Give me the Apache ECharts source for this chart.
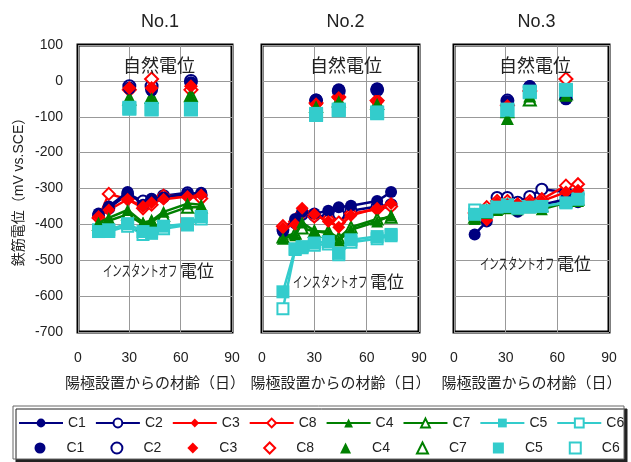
<!DOCTYPE html>
<html>
<head>
<meta charset="utf-8">
<script src="https://cdn.jsdelivr.net/npm/echarts@6/dist/echarts.min.js"></script>
<style>
  html, body { margin: 0; padding: 0; background: #fff; }
  #chart { width: 631px; height: 462px; }
</style>
</head>
<body>
<div id="chart"></div>
<script>
// series order as in the legend
const seriesNames = ['C1', 'C2', 'C3', 'C8', 'C4', 'C7', 'C5', 'C6'];
const panelTitles = ['No.1', 'No.2', 'No.3'];
const xTicks = [0, 30, 60, 90];
const yTicks = [100, 0, -100, -200, -300, -400, -500, -600, -700];

// No.1 : instant-off potentials (lines) and natural potentials (points)
const days1 = [12, 18, 29, 38, 43, 50, 64, 72];
const off1 = [
  [-370, -350, -310, -345, -330, -325, -315, -312],
  [-375, -355, -315, -335, -330, -320, -312, -318],
  [-378, -360, -330, -350, -340, -330, -322, -318],
  [-382, -315, -330, -355, -345, -320, -322, -328],
  [-395, -382, -360, -395, -390, -365, -342, -345],
  [-400, -390, -372, -400, -392, -375, -352, -352],
  [-420, -415, -398, -420, -425, -405, -398, -378],
  [-415, -420, -405, -428, -420, -412, -402, -385]
];
const natDays1 = [30, 43, 66];
const nat1 = [
  [-20, -25, -5], [-15, -15, 0], [-20, -20, -15], [-25, 5, -25],
  [-55, -50, -45], [-50, -45, -40], [-75, -78, -78], [-78, -80, -80]
];

// No.2
const days2 = [12, 19, 23, 30, 38, 44, 51, 66, 74];
const off2 = [
  [-420, -385, -365, -370, -362, -352, -348, -335, -310],
  [-415, -395, -372, -375, -378, -372, -362, -350, -345],
  [-410, -400, -355, -372, -392, -408, -375, -355, -342],
  [-405, -392, -368, -378, -385, -395, -370, -358, -350],
  [-440, -430, -395, -418, -425, -445, -415, -392, -375],
  [-435, -425, -410, -420, -420, -438, -408, -385, -380],
  [-588, -468, -462, -452, -448, -480, -443, -434, -428],
  [-635, -470, -465, -458, -455, -485, -450, -440, -432]
];
const natDays2 = [31, 44, 66];
const nat2 = [
  [-53, -25, -22], [-55, -28, -25], [-65, -48, -58], [-62, -45, -55],
  [-72, -58, -65], [-70, -55, -62], [-92, -80, -88], [-95, -82, -90]
];

// No.3
const days3 = [12, 19, 25, 31, 37, 44, 51, 65, 72];
const off3 = [
  [-428, -392, -355, -352, -365, -350, -345, -330, -338],
  [-382, -362, -325, -325, -338, -322, -302, -310, -315],
  [-372, -388, -340, -345, -342, -340, -335, -310, -305],
  [-368, -352, -335, -335, -345, -335, -330, -292, -288],
  [-385, -368, -360, -355, -358, -352, -358, -340, -335],
  [-380, -362, -355, -345, -350, -345, -348, -335, -330],
  [-372, -365, -352, -350, -355, -352, -350, -340, -330],
  [-360, -362, -350, -345, -350, -350, -348, -338, -325]
];
const natDays3 = [31, 44, 65];
const nat3 = [
  [-58, -16, -50], [-55, -18, -40], [-70, -30, -30], [-68, -28, 5],
  [-105, -42, -40], [-85, -52, -35], [-80, -30, -25], [-82, -32, -28]
];

const colors = ['#000080', '#000080', '#ff0000', '#ff0000', '#008000', '#008000', '#33cccc', '#33cccc'];
const symbols = ['circle', 'emptyCircle', 'diamond', 'emptyDiamond', 'triangle', 'emptyTriangle', 'rect', 'emptyRect'];
const sizes = [12, 11, 13, 12, 12, 11, 13, 11];

const FONT = '"Liberation Sans", "Noto Sans CJK JP", sans-serif';
const panels = [
  { days: days1, off: off1, natDays: natDays1, nat: nat1 },
  { days: days2, off: off2, natDays: natDays2, nat: nat2 },
  { days: days3, off: off3, natDays: natDays3, nat: nat3 }
];
const gridLeft = [78, 262, 454];
const gridW = [154, 157, 155];

let chart = echarts.init(document.getElementById('chart'), null, { renderer: 'canvas' });

let grids = [], xAxes = [], yAxes = [], series = [], titles = [], graphics = [];

panels.forEach((p, pi) => {
  grids.push({
    left: gridLeft[pi], top: 45, width: gridW[pi], height: 287,
    show: true, borderColor: '#000', borderWidth: 3, backgroundColor: '#fff'
  });
  xAxes.push({
    gridIndex: pi, type: 'value', min: xTicks[0], max: xTicks[xTicks.length - 1], interval: 30,
    name: '陽極設置からの材齢（日）', nameLocation: 'middle', nameGap: 44,
    nameTextStyle: { fontSize: 15, color: '#222', fontFamily: FONT },
    axisLine: { show: false }, axisTick: { show: false },
    axisLabel: { fontSize: 14, color: '#222', margin: 19, fontFamily: FONT },
    splitLine: { show: true, lineStyle: { color: '#999', width: 1 } }
  });
  yAxes.push({
    gridIndex: pi, type: 'value', min: -700, max: 100, interval: 100,
    name: pi === 0 ? '鉄筋電位（mV vs.SCE）' : '', nameLocation: 'middle', nameGap: 52,
    nameTextStyle: { fontSize: 14, color: '#222', fontFamily: FONT },
    axisLine: { show: false }, axisTick: { show: false },
    axisLabel: { show: pi === 0, fontSize: 14, color: '#222', margin: 15, fontFamily: FONT },
    splitLine: { show: true, lineStyle: { color: '#999', width: 1 } }
  });
  const cx = gridLeft[pi] + gridW[pi] / 2;
  titles.push({
    text: panelTitles[pi], left: cx, top: 8, textAlign: 'center',
    textStyle: { fontSize: 18, fontWeight: 'normal', color: '#222', fontFamily: FONT }
  });

  // hollow markers sit underneath the filled ones
  seriesNames.forEach((nm, si) => {
    const empty = symbols[si].startsWith('empty');
    series.push({
      name: nm, type: 'line', xAxisIndex: pi, yAxisIndex: pi,
      data: p.days.map((d, k) => [d, p.off[si][k]]),
      symbol: symbols[si], symbolSize: sizes[si], showAllSymbol: true,
      lineStyle: { color: colors[si], width: 2.5 },
      itemStyle: { color: colors[si], borderColor: colors[si], borderWidth: empty ? 2 : 0 },
      emphasis: { disabled: true }, animation: false, z: empty ? 2 : 3
    });
  });
  seriesNames.forEach((nm, si) => {
    const empty = symbols[si].startsWith('empty');
    series.push({
      name: nm + ' ', type: 'scatter', xAxisIndex: pi, yAxisIndex: pi,
      data: p.natDays.map((d, k) => [d, p.nat[si][k]]),
      symbol: symbols[si], symbolSize: sizes[si] + 1,
      itemStyle: { color: colors[si], borderColor: colors[si], borderWidth: empty ? 2 : 0, opacity: 1 },
      emphasis: { disabled: true }, animation: false, z: empty ? 2 : 3
    });
  });
});

// annotation texts
const natX = [159, 346, 535];
const offPos = [[103, 272], [293, 283], [480, 265]];
natX.forEach((x) => {
  graphics.push({
    type: 'text', left: x - 36, top: 58, z: 10,
    style: { text: '自然電位', fontSize: 18, fill: '#222', fontFamily: FONT }
  });
});
offPos.forEach(([x, y]) => {
  graphics.push({
    type: 'text', x: x, y: y, scaleX: 0.62, z: 10,
    style: { text: 'インスタントオフ', fontSize: 15, fill: '#222', fontFamily: FONT, verticalAlign: 'middle' }
  });
  graphics.push({
    type: 'text', x: x + 77, y: y, z: 10,
    style: { text: '電位', fontSize: 17, fill: '#222', fontFamily: FONT, verticalAlign: 'middle' }
  });
});
// legend frame with shadow
graphics.push({
  type: 'rect', z: 0, shape: { x: 13, y: 406, width: 611, height: 53 },
  style: { fill: '#fff', stroke: '#666', lineWidth: 1, shadowColor: '#222', shadowOffsetX: 3, shadowOffsetY: 3, shadowBlur: 0 }
});

const legendText = { fontSize: 14, color: '#222', fontFamily: FONT };

chart.setOption({
  backgroundColor: '#fff',
  title: titles,
  grid: grids,
  xAxis: xAxes,
  yAxis: yAxes,
  legend: [
    {
      left: 18, top: 416, width: 700, padding: 0, z: 20, selectedMode: false,
      itemWidth: 44, itemHeight: 11, itemGap: 9,
      textStyle: legendText, data: seriesNames
    },
    {
      left: 34.5, top: 441, width: 700, padding: 0, z: 20, selectedMode: false,
      itemWidth: 11, itemHeight: 11, itemGap: 26,
      textStyle: Object.assign({ padding: [0, 0, 0, 16] }, legendText),
      data: seriesNames.map((n) => n + ' '), formatter: (n) => n.trim()
    }
  ],
  graphic: graphics,
  series: series
});
</script>
</body>
</html>
